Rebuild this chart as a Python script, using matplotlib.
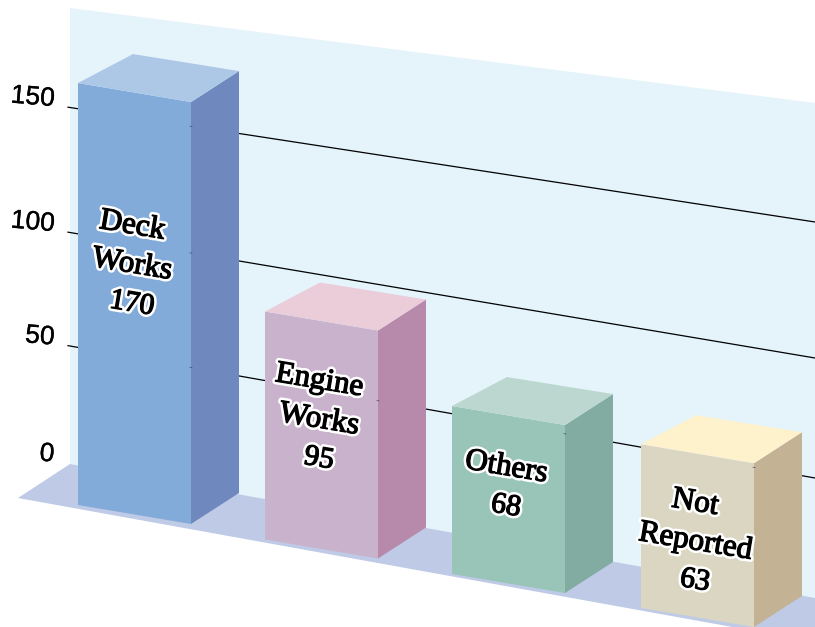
import numpy as np
import matplotlib
matplotlib.use("Agg")
import matplotlib.pyplot as plt
from matplotlib.patches import Polygon
import matplotlib.patheffects as pe

plt.rcParams["text.hinting"] = "no_hinting"
plt.rcParams["text.hinting_factor"] = 1

# Data
categories = ["Deck\nWorks", "Engine\nWorks", "Others", "Not\nReported"]
values = [170, 95, 68, 63]
tick_values = [0, 50, 100, 150]
tick_labels = ["0", "50", "100", "150"]

# Colours (front, side, top)
front_colors = ["#82ABDA", "#C9B3CC", "#98C5B8", "#DBD6C2"]
side_colors = ["#6F89BF", "#B789AB", "#82ACA1", "#C3B293"]
top_colors = ["#ADC8E7", "#EBCCD9", "#BCD7D0", "#FDF2CC"]
WALL = "#E5F3FB"
FLOOR = "#BECAE6"

# Layout of the oblique projection (pixel space of the axes)
W, H = 815, 627
scale_left = [464, 346, 232.5, 107.5]     # axis scale along the wall's left edge
scale_right = [600, 478, 358, 222]        # axis scale along the wall's right edge
bar_x0 = [78, 265, 452, 641]
bar_base = [505, 539.5, 574, 608]
bar_unit = [2.482, 2.40, 2.47, 2.60]      # px per unit (the original's drawn perspective)
front_w, front_drop = 113, 19
depth_dx, depth_dy = 48, -31
label_dx = 54
label_cy = [265, 420, 487, 542]
line_gap = 39
TILT = -9.5

fig = plt.figure(figsize=(W / 100, H / 100), dpi=100)
ax = fig.add_axes([0, 0, 1, 1])
ax.set_xlim(0, W)
ax.set_ylim(H, 0)
ax.axis("off")

# Wall and floor
ax.add_patch(Polygon([(70, 8), (W, 103), (W, 600), (70, 464)], fc=WALL, ec="none", zorder=1))
ax.add_patch(Polygon([(18, 498), (70, 464), (W, 598), (W, 632), (W - 55, 632)], fc=FLOOR, ec="none", zorder=2))


def wall_y(v, x):
    yl = np.interp(v, tick_values, scale_left)
    yr = np.interp(v, tick_values, scale_right)
    return yl + (yr - yl) * (x - 70) / (W - 70)


# Grid lines, ticks and tick labels
for v, lab in zip(tick_values, tick_labels):
    if v > 0:
        ax.plot([68, W], [wall_y(v, 68), wall_y(v, W)], color="black", lw=0.9, zorder=3)
    ax.text(54, np.interp(v, tick_values, scale_left) - (8 if v else 9), lab,
            fontsize=19, family="Liberation Sans", color="black",
            ha="right", va="center", rotation=-5, rotation_mode="anchor", zorder=3,
            path_effects=[pe.Stroke(linewidth=0.25, foreground="black"), pe.Normal()])

# Bars
for i, v in enumerate(values):
    x0, base, h = bar_x0[i], bar_base[i], v * bar_unit[i]
    fl_b = (x0, base)
    fr_b = (x0 + front_w, base + front_drop)
    br_b = (fr_b[0] + depth_dx, fr_b[1] + depth_dy)
    fl_t = (x0, base - h)
    fr_t = (fr_b[0], fr_b[1] - h)
    br_t = (br_b[0], br_b[1] - h)
    bl_t = (x0 + depth_dx + 7, base + depth_dy - h + 2)
    z = 4 + i
    ax.add_patch(Polygon([fl_b, fr_b, fr_t, fl_t], fc=front_colors[i], ec="none", zorder=z))
    ax.add_patch(Polygon([fr_b, br_b, br_t, fr_t], fc=side_colors[i], ec="none", zorder=z))
    ax.add_patch(Polygon([fl_t, fr_t, br_t, bl_t], fc=top_colors[i], ec="none", zorder=z))
    # grid lines peeking through at the front corner
    for tv in tick_values[1:]:
        yy = wall_y(tv, fr_b[0])
        if fr_t[1] < yy < fr_b[1]:
            ax.plot([fr_b[0] - 1, fr_b[0] + 1], [yy, yy + 0.3], color="#444466", lw=0.5, zorder=z)
    # Label with white halo, one tilted text per line
    lines = categories[i].split("\n") + [str(v)]
    cy = label_cy[i]
    for k, s in enumerate(lines):
        yy = cy + (k - (len(lines) - 1) / 2) * line_gap
        ax.text(x0 + label_dx, yy, s, fontsize=21.5 if s.isdigit() else 22.5,
                family="Liberation Serif", color="black",
                ha="center", va="center", rotation=TILT, rotation_mode="anchor", zorder=20,
                path_effects=[pe.Stroke(linewidth=4.5, foreground="white"),
                              pe.Stroke(linewidth=0.9, foreground="black"), pe.Normal()])

fig.savefig("out.png", dpi=100, facecolor="white")
